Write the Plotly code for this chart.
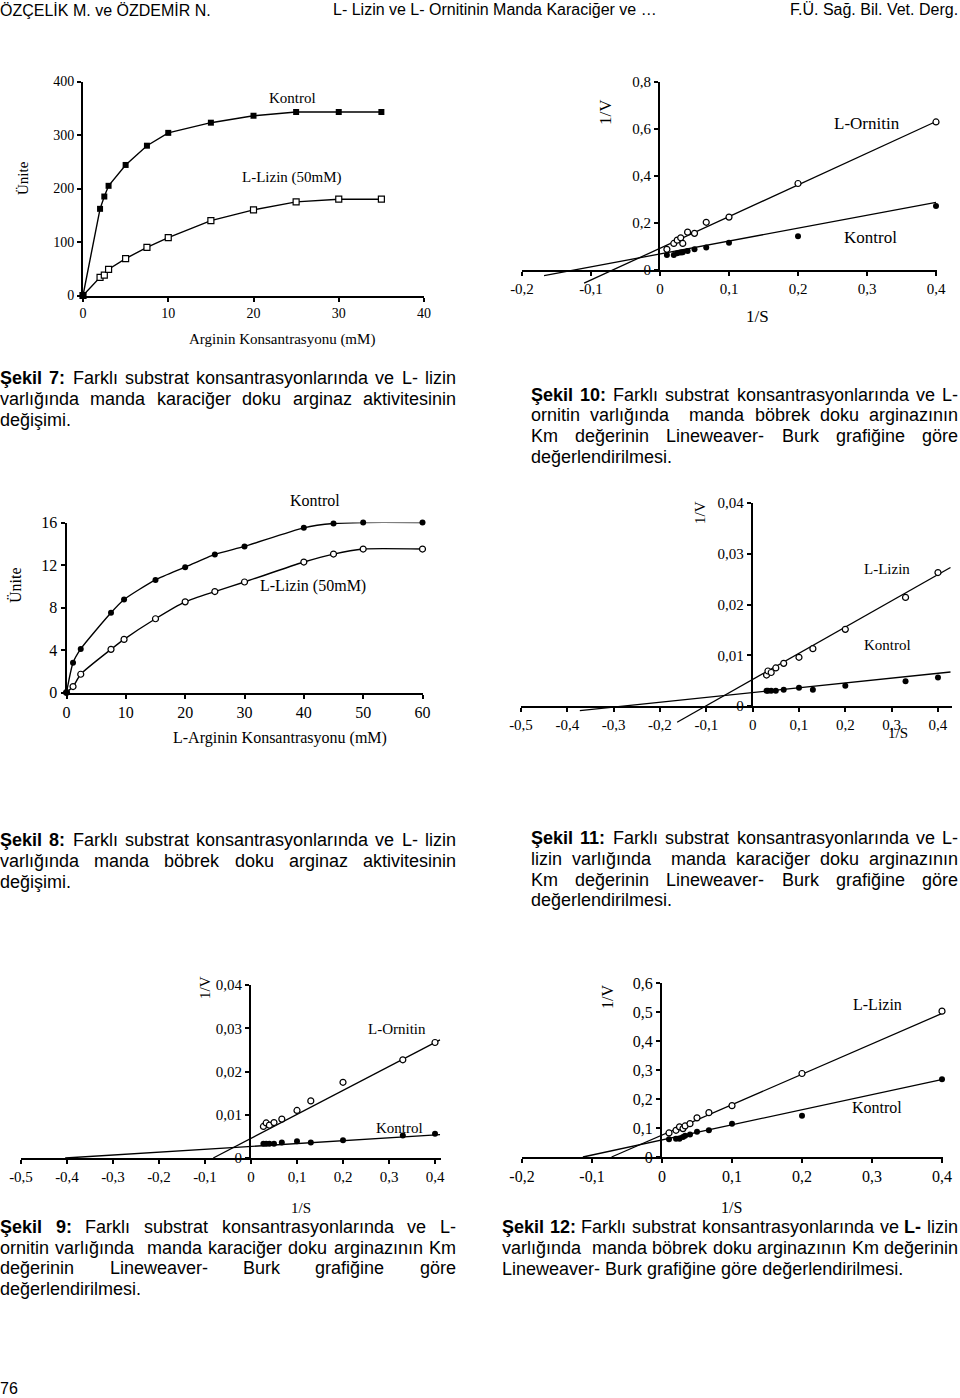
import plotly.graph_objects as go

W, H = 960, 1398
SERIF = "Liberation Serif"
SANS = "Liberation Sans"

# ---------------- data ----------------
# Şekil 7 - karaciğer, L-lizin (Michaelis-Menten)
f7_arg = [0, 2, 2.5, 3, 5, 7.5, 10, 15, 20, 25, 30, 35]
f7_kontrol = [0, 162, 185, 205, 244, 280, 304, 323, 336, 343, 343, 343]
f7_lizin = [0, 34, 38, 49, 69, 90, 108, 140, 160, 175, 180, 180]
f7_xticks = [0, 10, 20, 30, 40]
f7_yticks = [0, 100, 200, 300, 400]

# Şekil 8 - böbrek, L-lizin
f8_arg = [0, 1.1, 2.4, 7.5, 9.7, 15, 20, 25, 30, 40, 45, 50, 60]
f8_kontrol = [0, 2.8, 4.1, 7.5, 8.75, 10.6, 11.8, 13.0, 13.75, 15.5, 15.9, 16.0, 16.0]
f8_lizin = [0, 0.56, 1.72, 4.06, 5.0, 6.94, 8.53, 9.5, 10.4, 12.28, 13.03, 13.5, 13.5]
f8_xticks = [0, 10, 20, 30, 40, 50, 60]
f8_yticks = [0, 4, 8, 12, 16]

# Şekil 10 - böbrek, L-ornitin (Lineweaver-Burk)
f10_s = [0.01, 0.02, 0.025, 0.03, 0.033, 0.04, 0.05, 0.067, 0.1, 0.2, 0.4]
f10_ornitin = [0.088, 0.113, 0.127, 0.137, 0.113, 0.161, 0.156, 0.203, 0.225, 0.368, 0.630]
f10_kontrol = [0.064, 0.064, 0.071, 0.074, 0.075, 0.081, 0.088, 0.096, 0.116, 0.144, 0.272]
f10_ornitin_fit_x = [-0.11, 0.4]
f10_ornitin_fit_y = [-0.056, 0.632]
f10_kontrol_fit_x = [-0.168, 0.4]
f10_kontrol_fit_y = [-0.024, 0.288]
f10_yticks = [0, 0.2, 0.4, 0.6, 0.8]
f10_ytext = ["0", "0,2", "0,4", "0,6", "0,8"]

# Şekil 11 - karaciğer, L-lizin
f11_s = [0.03, 0.033, 0.04, 0.05, 0.067, 0.1, 0.13, 0.2, 0.33, 0.4]
f11_lizin = [0.0061, 0.0069, 0.0066, 0.0075, 0.0084, 0.0096, 0.0113, 0.0151, 0.0214, 0.0263]
f11_kontrol = [0.0030, 0.0030, 0.0030, 0.0030, 0.0032, 0.0036, 0.0032, 0.0040, 0.0049, 0.0056]
f11_lizin_fit_x = [-0.163, 0.427]
f11_lizin_fit_y = [-0.0032, 0.0273]
f11_kontrol_fit_x = [-0.373, 0.427]
f11_kontrol_fit_y = [-0.0009, 0.0067]
f11_yticks = [0, 0.01, 0.02, 0.03, 0.04]
f11_ytext = ["0", "0,01", "0,02", "0,03", "0,04"]

# Şekil 9 - karaciğer, L-ornitin
f9_s = [0.027, 0.033, 0.04, 0.05, 0.067, 0.1, 0.13, 0.2, 0.33, 0.4]
f9_ornitin = [0.0073, 0.0081, 0.0076, 0.0082, 0.0090, 0.0110, 0.0132, 0.0175, 0.0227, 0.0267]
f9_kontrol = [0.0033, 0.0033, 0.0033, 0.0033, 0.0036, 0.0039, 0.0036, 0.0041, 0.0052, 0.0056]
f9_ornitin_fit_x = [-0.082, 0.411]
f9_ornitin_fit_y = [0.0, 0.0273]
f9_kontrol_fit_x = [-0.404, 0.411]
f9_kontrol_fit_y = [0.0, 0.0054]
f9_yticks = f11_yticks
f9_ytext = f11_ytext

# Şekil 12 - böbrek, L-lizin
f12_s = [0.01, 0.02, 0.025, 0.03, 0.033, 0.04, 0.05, 0.067, 0.1, 0.2, 0.4]
f12_lizin = [0.083, 0.092, 0.104, 0.098, 0.107, 0.115, 0.135, 0.153, 0.177, 0.288, 0.503]
f12_kontrol = [0.061, 0.063, 0.063, 0.069, 0.073, 0.078, 0.087, 0.092, 0.115, 0.142, 0.268]
f12_lizin_fit_x = [-0.072, 0.401]
f12_lizin_fit_y = [0.0, 0.496]
f12_kontrol_fit_x = [-0.113, 0.401]
f12_kontrol_fit_y = [0.0, 0.268]
f12_yticks = [0, 0.1, 0.2, 0.3, 0.4, 0.5, 0.6]
f12_ytext = ["0", "0,1", "0,2", "0,3", "0,4", "0,5", "0,6"]

lb_xticks_2 = [-0.2, -0.1, 0, 0.1, 0.2, 0.3, 0.4]
lb_xtext_2 = ["-0,2", "-0,1", "0", "0,1", "0,2", "0,3", "0,4"]
lb_xticks_5 = [-0.5, -0.4, -0.3, -0.2, -0.1, 0, 0.1, 0.2, 0.3, 0.4]
lb_xtext_5 = ["-0,5", "-0,4", "-0,3", "-0,2", "-0,1", "0", "0,1", "0,2", "0,3", "0,4"]


def fx(px):
    return px / W


def fy(py):
    return 1 - py / H


def ax_key(kind, n):
    return kind if n == 1 else f"{kind}{n}"


def ref(kind, n):
    return kind if n == 1 else f"{kind}{n}"


def common(size):
    return dict(showline=True, linecolor="black", linewidth=2, ticks="outside",
                ticklen=4, tickwidth=1.5, tickcolor="black", showgrid=False,
                zeroline=False, fixedrange=True,
                tickfont=dict(family=SERIF, size=size, color="black"))


layout = {}
traces = []


def dummy(xa, ya):
    traces.append(go.Scatter(x=[None], y=[None], mode="markers", hoverinfo="skip",
                             xaxis=xa, yaxis=ya))


def mm_panel(n, xr, xpx, yr, ypx, xt, yt, size):
    layout[ax_key("xaxis", n)] = dict(common(size), range=xr, domain=[fx(xpx[0]), fx(xpx[1])],
                                      anchor=ref("y", n), tickvals=xt)
    layout[ax_key("yaxis", n)] = dict(common(size), range=yr, domain=[fy(ypx[0]), fy(ypx[1])],
                                      anchor=ref("x", n), tickvals=yt)


def lb_panel(n, xr, x0px, xscale, ytop, y0px, ytoppx, ylow, xt, xtxt, yt, ytxt, size):
    x1px = x0px + (xr[1] - xr[0]) * xscale
    zero_px = x0px + (0 - xr[0]) * xscale
    yscale = (y0px - ytoppx) / ytop
    low_px = y0px - ylow * yscale
    # visible x axis sitting on 1/V = 0
    layout[ax_key("xaxis", n)] = dict(common(size), range=xr, domain=[fx(x0px), fx(x1px)],
                                      anchor=ref("y", n), tickvals=xt, ticktext=xtxt)
    # helper x axis starting at 1/S = 0 so that the 1/V axis stands on the origin
    layout[ax_key("xaxis", n + 12)] = dict(range=[0, xr[1]], domain=[fx(zero_px), fx(x1px)],
                                           anchor=ref("y", n), visible=False, fixedrange=True)
    layout[ax_key("yaxis", n)] = dict(common(size), range=[0, ytop], domain=[fy(y0px), fy(ytoppx)],
                                      anchor=ref("x", n + 12), tickvals=yt, ticktext=ytxt)
    # data axis reaching below zero so the fitted lines can cross the x axis
    layout[ax_key("yaxis", n + 6)] = dict(range=[ylow, ytop], domain=[fy(low_px), fy(ytoppx)],
                                          anchor=ref("x", n), visible=False, fixedrange=True)
    dummy(ref("x", n), ref("y", n))
    dummy(ref("x", n + 12), ref("y", n))


FILLED = dict(symbol="circle", size=6, color="black")
OPEN = dict(symbol="circle", size=6, color="white", line=dict(color="black", width=1.2))


def mm_traces(n, x, y1, y2, symbol, shape):
    for y, filled in ((y2, False), (y1, True)):
        m = dict(FILLED if filled else OPEN, symbol=symbol)
        traces.append(go.Scatter(x=x, y=y, mode="lines+markers", marker=m,
                                 line=dict(color="black", width=1.4, shape=shape, smoothing=0.6),
                                 cliponaxis=False, xaxis=ref("x", n), yaxis=ref("y", n)))


def lb_traces(n, s, inh, kon, fit_i, fit_k):
    for fx_, fy_ in (fit_i, fit_k):
        traces.append(go.Scatter(x=fx_, y=fy_, mode="lines", line=dict(color="black", width=1.3),
                                 xaxis=ref("x", n), yaxis=ref("y", n + 6)))
    traces.append(go.Scatter(x=s, y=inh, mode="markers", marker=OPEN, cliponaxis=False,
                             xaxis=ref("x", n), yaxis=ref("y", n + 6)))
    traces.append(go.Scatter(x=s, y=kon, mode="markers", marker=FILLED, cliponaxis=False,
                             xaxis=ref("x", n), yaxis=ref("y", n + 6)))


# panel 1: Şekil 7
mm_panel(1, [0, 40], [83, 424], [0, 400], [295.5, 81.5], f7_xticks, f7_yticks, 14)
mm_traces(1, f7_arg, f7_kontrol, f7_lizin, "square", "linear")
# panel 3: Şekil 8
mm_panel(3, [0, 60], [66.5, 422.5], [0, 16], [692.5, 522.5], f8_xticks, f8_yticks, 16)
mm_traces(3, f8_arg, f8_kontrol, f8_lizin, "circle", "spline")
# panel 2: Şekil 10
lb_panel(2, [-0.2, 0.402], 522, 690, 0.8, 270, 82, -0.07, lb_xticks_2, lb_xtext_2, f10_yticks, f10_ytext, 15)
lb_traces(2, f10_s, f10_ornitin, f10_kontrol, (f10_ornitin_fit_x, f10_ornitin_fit_y),
          (f10_kontrol_fit_x, f10_kontrol_fit_y))
# panel 4: Şekil 11
lb_panel(4, [-0.5, 0.43], 521, 463.3, 0.04, 706, 503, -0.004, lb_xticks_5, lb_xtext_5, f11_yticks, f11_ytext, 15)
lb_traces(4, f11_s, f11_lizin, f11_kontrol, (f11_lizin_fit_x, f11_lizin_fit_y),
          (f11_kontrol_fit_x, f11_kontrol_fit_y))
# panel 5: Şekil 9
lb_panel(5, [-0.5, 0.412], 21, 460, 0.04, 1158, 985, -0.002, lb_xticks_5, lb_xtext_5, f9_yticks, f9_ytext, 15)
lb_traces(5, f9_s, f9_ornitin, f9_kontrol, (f9_ornitin_fit_x, f9_ornitin_fit_y),
          (f9_kontrol_fit_x, f9_kontrol_fit_y))
# panel 6: Şekil 12
lb_panel(6, [-0.2, 0.402], 522, 700, 0.6, 1157, 983, -0.03, lb_xticks_2, lb_xtext_2, f12_yticks, f12_ytext, 16)
lb_traces(6, f12_s, f12_lizin, f12_kontrol, (f12_lizin_fit_x, f12_lizin_fit_y),
          (f12_kontrol_fit_x, f12_kontrol_fit_y))

annotations = []


def label(text, px, py, size, family=SERIF, angle=0, anchor="center"):
    annotations.append(dict(text=text, x=fx(px), y=fy(py), xref="paper", yref="paper",
                            xanchor=anchor, yanchor="middle", showarrow=False, textangle=angle,
                            borderpad=0, borderwidth=0,
                            font=dict(family=family, size=size, color="black")))


# chart labels
label("Kontrol", 292, 98, 15)
label("L-Lizin (50mM)", 292, 178, 15)
label("Ünite", 23, 178, 15, angle=-90)
label("Arginin Konsantrasyonu (mM)", 282, 339, 15)

label("Kontrol", 315, 500, 16)
label("L-Lizin (50mM)", 313, 586, 16)
label("Ünite", 15, 585, 16, angle=-90)
label("L-Arginin Konsantrasyonu (mM)", 280, 738, 16)

label("L-Ornitin", 867, 123, 17)
label("Kontrol", 870, 238, 17)
label("1/V", 605, 112, 17, angle=-90)
label("1/S", 757, 317, 17)

label("L-Lizin", 887, 569, 15)
label("Kontrol", 887, 645, 15)
label("1/V", 700, 513, 15, angle=-90)
label("1/S", 898, 733, 15)

label("L-Ornitin", 397, 1029, 15)
label("Kontrol", 399, 1128, 15)
label("1/V", 205, 988, 15, angle=-90)
label("1/S", 301, 1208, 15)

label("L-Lizin", 877, 1004, 16)
label("Kontrol", 877, 1107, 16)
label("1/V", 607, 997, 16, angle=-90)
label("1/S", 731, 1207, 16)

# header / footer
label("ÖZÇELİK M. ve ÖZDEMİR N.", 0, 10, 16, family=SANS, anchor="left")
label("L- Lizin ve L- Ornitinin Manda Karaciğer ve …", 333, 10, 16, family=SANS, anchor="left")
label("F.Ü. Sağ. Bil. Vet. Derg.", 958, 10, 16, family=SANS, anchor="right")
label("76", 0, 1388, 16, family=SANS, anchor="left")

# Arial-compatible advance widths (1/1000 em) for justification
REG = {" ": 278, ".": 278, ",": 278, ":": 278, "-": 333, "a": 556, "b": 556, "c": 500, "d": 556,
       "e": 556, "f": 278, "g": 556, "h": 556, "i": 222, "j": 222, "k": 500, "l": 222, "m": 833,
       "n": 556, "o": 556, "p": 556, "r": 333, "s": 500, "t": 278, "u": 556, "v": 500, "w": 722,
       "y": 500, "z": 500, "ı": 278, "ğ": 556, "ş": 500, "ç": 500, "ö": 556, "ü": 556,
       "B": 667, "F": 611, "K": 667, "L": 556}
BOLD = {"Ş": 667, "e": 556, "k": 556, "i": 278, "l": 278, ":": 333, "L": 611, "-": 333}


def wid(word, bold, size):
    table = BOLD if bold else REG
    return sum(table.get(ch, 556) for ch in word) * size / 1000


def caption(x0, x1, ys, lines, size=18):
    for i, (y, line) in enumerate(zip(ys, lines)):
        toks = line.split(" ")
        words = [(t.lstrip("*"), t.startswith("*")) for t in toks]
        if i == len(lines) - 1:
            txt = " ".join(f"<b>{w}</b>" if b else w for w, b in words)
            label(txt, x0, y, size, family=SANS, anchor="left")
            continue
        widths = [wid(w, b, size) for w, b in words]
        gap = (x1 - x0 - sum(widths)) / (len(words) - 1)
        x = x0
        for (w, b), ww in zip(words, widths):
            if w:
                label(f"<b>{w}</b>" if b else w, x, y, size, family=SANS, anchor="left")
            x += ww + gap


caption(0, 456, [378, 399, 420], [
    "*Şekil *7: Farklı substrat konsantrasyonlarında ve L- lizin",
    "varlığında manda karaciğer doku arginaz aktivitesinin",
    "değişimi."])
caption(531, 958, [395, 415, 436, 457], [
    "*Şekil *10: Farklı substrat konsantrasyonlarında ve L-",
    "ornitin varlığında  manda böbrek doku arginazının",
    "Km değerinin Lineweaver- Burk grafiğine göre",
    "değerlendirilmesi."])
caption(0, 456, [840, 861, 882], [
    "*Şekil *8: Farklı substrat konsantrasyonlarında ve L- lizin",
    "varlığında manda böbrek doku arginaz aktivitesinin",
    "değişimi."])
caption(531, 958, [838, 859, 880, 900], [
    "*Şekil *11: Farklı substrat konsantrasyonlarında ve L-",
    "lizin varlığında  manda karaciğer doku arginazının",
    "Km değerinin Lineweaver- Burk grafiğine göre",
    "değerlendirilmesi."])
caption(0, 456, [1227, 1248, 1268, 1289], [
    "*Şekil *9: Farklı substrat konsantrasyonlarında ve L-",
    "ornitin varlığında  manda karaciğer doku arginazının Km",
    "değerinin Lineweaver- Burk grafiğine göre",
    "değerlendirilmesi."])
caption(502, 958, [1227, 1248, 1269], [
    "*Şekil *12: Farklı substrat konsantrasyonlarında ve *L- lizin",
    "varlığında  manda böbrek doku arginazının Km değerinin",
    "Lineweaver- Burk grafiğine göre değerlendirilmesi."])

fig = go.Figure(data=traces)
fig.update_layout(width=W, height=H, margin=dict(l=0, r=0, t=0, b=0, autoexpand=False),
                  showlegend=False, paper_bgcolor="white", plot_bgcolor="rgba(0,0,0,0)",
                  annotations=annotations, **layout)
fig.write_html("out.html", config={"displayModeBar": False},
               post_script="document.body.style.margin = '0px';")
